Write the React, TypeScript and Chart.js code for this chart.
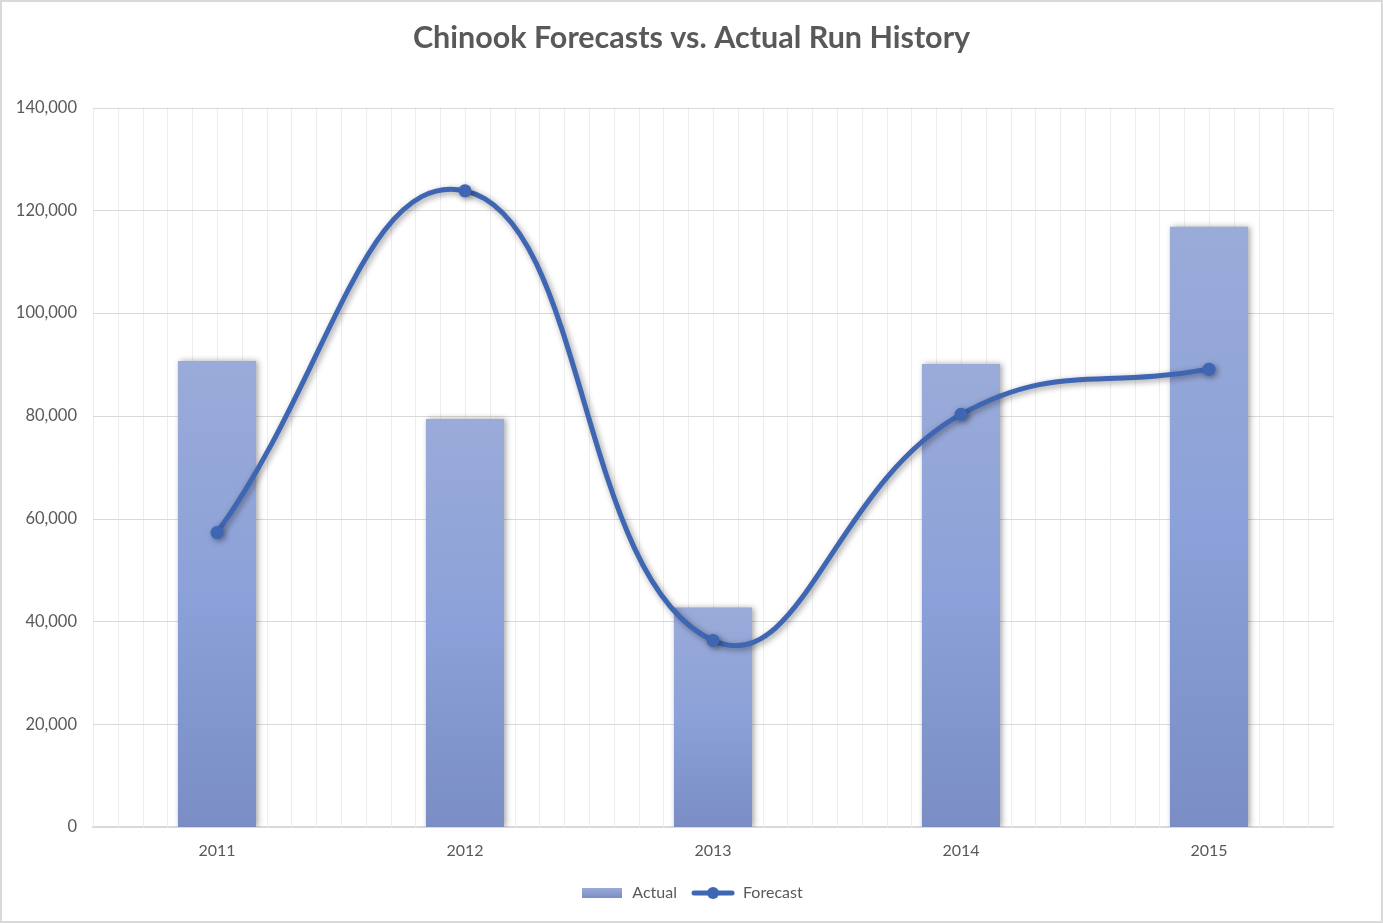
import React, { useEffect, useRef } from "react";
import { Chart, registerables } from "chart.js";

Chart.register(...registerables);

const years = ["2011", "2012", "2013", "2014", "2015"];
const actual = [90700, 79400, 42700, 90100, 116800];
const forecast = [57300, 123800, 36300, 80300, 89100];
const yTicks = [0, 20000, 40000, 60000, 80000, 100000, 120000, 140000];

const FONT = "Lato, 'Open Sans', sans-serif";
const TEXT = "#595959";
const LINE = "#3E66B3";

function makeBarLegendIcon(): HTMLCanvasElement {
  const c = document.createElement("canvas");
  c.width = 40;
  c.height = 10;
  const g = c.getContext("2d")!;
  const grd = g.createLinearGradient(0, 0, 0, 10);
  grd.addColorStop(0, "#9AABD8");
  grd.addColorStop(1, "#7A8DC5");
  g.fillStyle = grd;
  g.fillRect(0, 0, 40, 10);
  return c;
}

function makeLineLegendIcon(): HTMLCanvasElement {
  const c = document.createElement("canvas");
  c.width = 44;
  c.height = 14;
  const g = c.getContext("2d")!;
  g.strokeStyle = LINE;
  g.lineWidth = 5;
  g.lineCap = "round";
  g.beginPath();
  g.moveTo(3, 7);
  g.lineTo(41, 7);
  g.stroke();
  g.fillStyle = LINE;
  g.beginPath();
  g.arc(22, 7, 6, 0, Math.PI * 2);
  g.fill();
  return c;
}

const frame = {
  id: "frame",
  beforeDraw(chart: any) {
    const { ctx, width, height } = chart;
    ctx.save();
    ctx.fillStyle = "#ffffff";
    ctx.fillRect(0, 0, width, height);
    ctx.strokeStyle = "#d9d9d9";
    ctx.lineWidth = 2;
    ctx.strokeRect(1, 1, width - 2, height - 2);
    ctx.restore();
  },
  beforeDatasetsDraw(chart: any) {
    const { ctx, chartArea } = chart;
    const xs = chart.scales.x;
    const n = years.length;
    const step = (chartArea.right - chartArea.left) / (n * 10);
    ctx.save();
    ctx.strokeStyle = "#ededed";
    ctx.lineWidth = 1;
    for (let i = 0; i <= n * 10; i++) {
      const x = Math.round(xs.left + i * step) + 0.5;
      ctx.beginPath();
      ctx.moveTo(x, chartArea.top);
      ctx.lineTo(x, chartArea.bottom);
      ctx.stroke();
    }
    const ys = chart.scales.y;
    ctx.strokeStyle = "#d9d9d9";
    yTicks.forEach((v) => {
      const y = Math.round(ys.getPixelForValue(v)) + 0.5;
      ctx.beginPath();
      ctx.moveTo(chartArea.left, y);
      ctx.lineTo(chartArea.right, y);
      ctx.stroke();
    });
    ctx.restore();
  },
  beforeDatasetDraw(chart: any, args: any) {
    const ctx = chart.ctx;
    ctx.save();
    if (args.index === 0) {
      ctx.shadowColor = "rgba(0,0,0,0.35)";
      ctx.shadowBlur = 6;
      ctx.shadowOffsetX = 2;
      ctx.shadowOffsetY = 0;
    } else {
      ctx.shadowColor = "rgba(0,0,0,0.4)";
      ctx.shadowBlur = 6;
      ctx.shadowOffsetX = 2;
      ctx.shadowOffsetY = 2;
    }
  },
  afterDatasetDraw(chart: any) {
    chart.ctx.restore();
  },
};

export default function App() {
  const ref = useRef<HTMLCanvasElement | null>(null);

  useEffect(() => {
    document.body.style.margin = "0";
    const canvas = ref.current!;
    const barIcon = makeBarLegendIcon();
    const lineIcon = makeLineLegendIcon();

    const chart = new Chart(canvas, {
      type: "bar",
      data: {
        labels: years,
        datasets: [
          {
            type: "bar",
            label: "Actual",
            data: actual,
            order: 2,
            categoryPercentage: 1,
            barPercentage: 0.315,
            borderWidth: 0,
            backgroundColor: (c: any) => {
              const chart = c.chart;
              const area = chart.chartArea;
              if (!area || c.dataIndex === undefined) return "#8CA1D9";
              const ys = chart.scales.y;
              const top = ys.getPixelForValue(c.raw);
              const bottom = ys.getPixelForValue(0);
              const g = chart.ctx.createLinearGradient(0, top, 0, bottom);
              g.addColorStop(0, "#9AABD8");
              g.addColorStop(0.5, "#8CA1D9");
              g.addColorStop(1, "#7A8DC5");
              return g;
            },
          } as any,
          {
            type: "line",
            label: "Forecast",
            data: forecast,
            order: 1,
            borderColor: LINE,
            backgroundColor: LINE,
            borderWidth: 5,
            tension: 0.45,
            pointRadius: 6.5,
            pointHoverRadius: 6.5,
            pointBackgroundColor: LINE,
            pointBorderWidth: 0,
            fill: false,
          } as any,
        ],
      },
      options: {
        responsive: false,
        animation: false,
        layout: { padding: { left: 0, right: 0, top: 0, bottom: 12 } },
        plugins: {
          title: {
            display: true,
            text: "Chinook Forecasts vs. Actual Run History",
            color: TEXT,
            font: { family: FONT, size: 30.5, weight: "bold" },
            padding: { top: 20, bottom: 51 },
          },
          legend: {
            position: "bottom",
            labels: {
              color: TEXT,
              font: { family: FONT, size: 16 },
              usePointStyle: true,
              pointStyleWidth: 44,
              padding: 14,
              generateLabels: () => [
                {
                  text: "Actual",
                  pointStyle: barIcon,
                  fontColor: TEXT,
                  datasetIndex: 0,
                  lineWidth: 0,
                  strokeStyle: "transparent",
                  fillStyle: "transparent",
                } as any,
                {
                  text: "Forecast",
                  pointStyle: lineIcon,
                  fontColor: TEXT,
                  datasetIndex: 1,
                  lineWidth: 0,
                  strokeStyle: "transparent",
                  fillStyle: "transparent",
                } as any,
              ],
            },
          },
          tooltip: { enabled: false },
        },
        scales: {
          x: {
            grid: { display: false, drawTicks: false },
            border: { display: true, color: "#d9d9d9", width: 2 },
            ticks: {
              color: TEXT,
              font: { family: FONT, size: 16 },
              padding: 14,
            },
            afterFit: (s: any) => {
              s.height = 44;
            },
          },
          y: {
            min: 0,
            max: 140000,
            afterBuildTicks: (s: any) => {
              s.ticks = yTicks.map((v) => ({ value: v }));
            },
            grid: { display: false, drawTicks: false },
            border: { display: false },
            ticks: {
              color: TEXT,
              font: { family: FONT, size: 16.5 },
              padding: 16,
              callback: (v: any) => Number(v).toLocaleString("en-US"),
            },
            afterFit: (s: any) => {
              s.width = 93;
            },
          },
          yRight: {
            position: "right",
            min: 0,
            max: 140000,
            grid: { display: false, drawTicks: false },
            border: { display: false },
            ticks: { display: false },
            afterFit: (s: any) => {
              s.width = 50;
            },
          },
        },
      },
      plugins: [frame],
    });
    return () => chart.destroy();
  }, []);

  return <canvas ref={ref} width={1383} height={923} style={{ display: "block" }} />;
}
